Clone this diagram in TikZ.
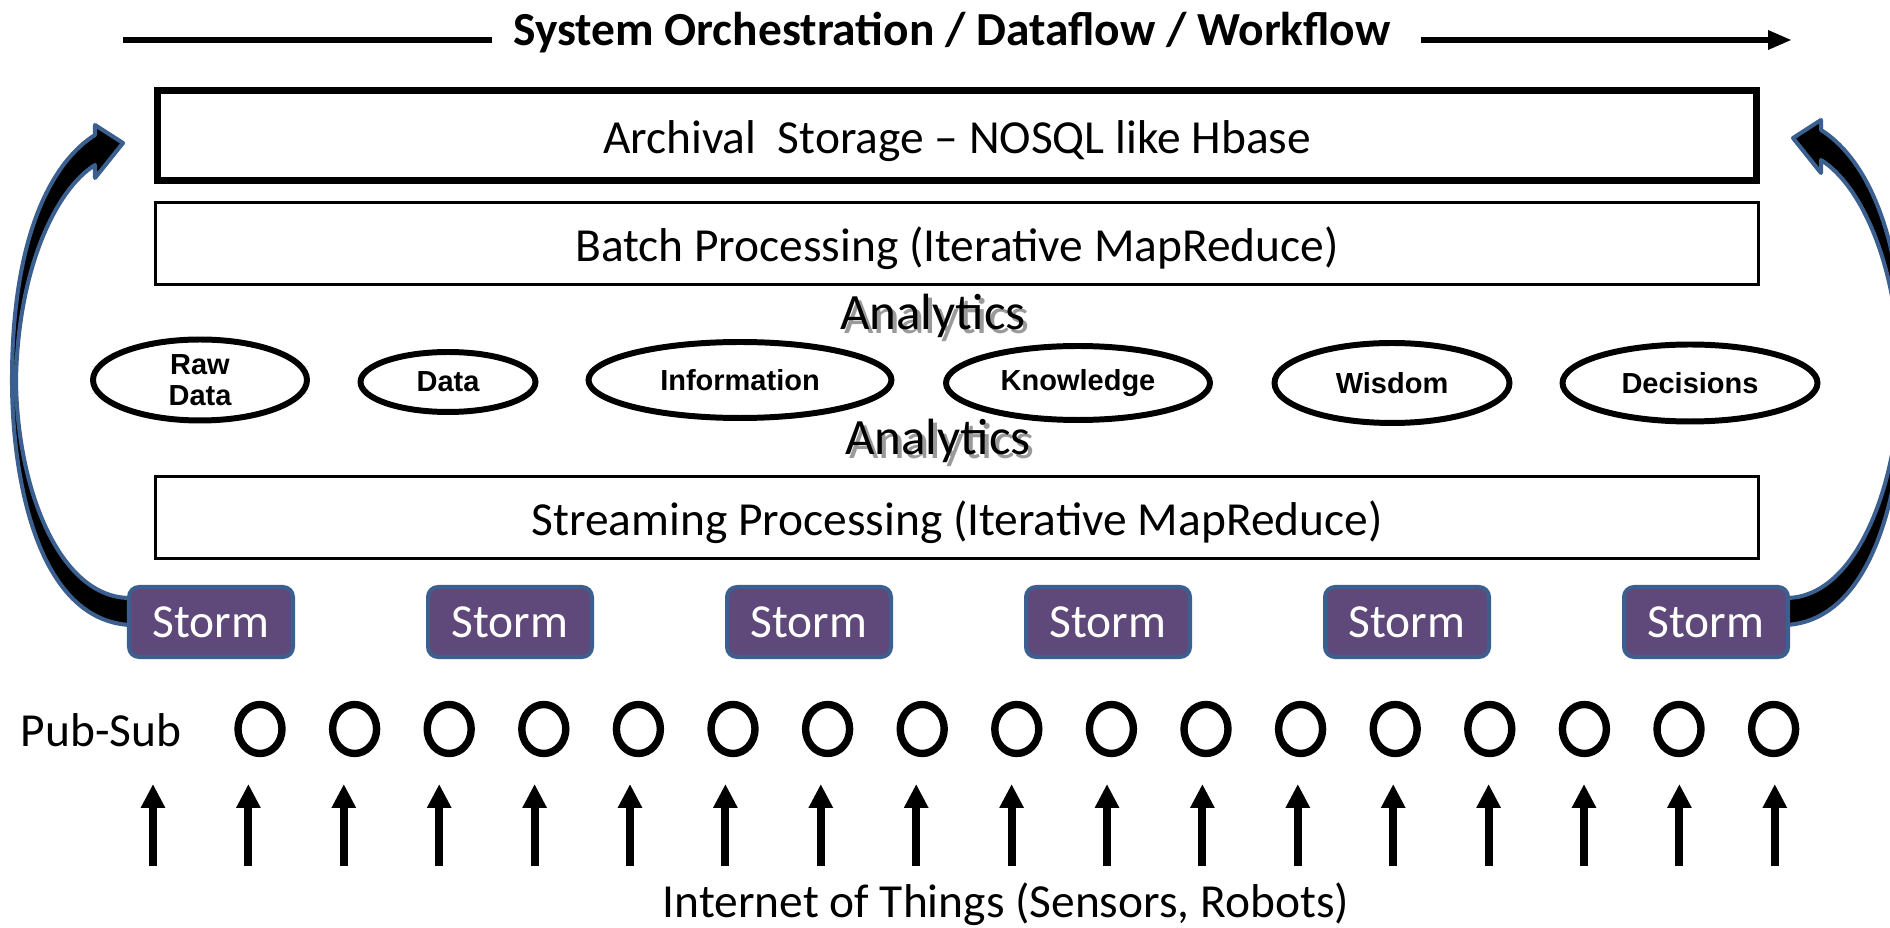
\documentclass[tikz,border=0pt]{standalone}
\usepackage{fontspec}
\setmainfont{Carlito}
\newfontfamily\arialfont{Liberation Sans}
\usetikzlibrary{arrows.meta,positioning,calc,shapes.geometric}
\definecolor{stormfill}{HTML}{5F497A}
\definecolor{stormline}{HTML}{3B6090}
\definecolor{shadowgray}{HTML}{9A9A9A}
\newcommand\bigtext{\fontsize{27}{32}\selectfont}
\newcommand\shadowed[1]{\makebox[0pt][l]{\hspace{2.2pt}\raisebox{-2.2pt}{\color{shadowgray}#1}}#1}
\tikzset{layerbox/.style={draw,line width=1.7pt,minimum width=32.06cm,minimum height=1.64cm,inner sep=0pt,
 text height=21pt,text depth=0pt,font=\bigtext},
 archivebox/.style={layerbox,line width=4pt,minimum width=31.98cm,minimum height=1.8cm},
 stagebox/.style={ellipse,draw,line width=3.4pt,inner sep=0pt,align=center,
 font=\arialfont\bfseries\fontsize{16.5}{18}\selectfont},
 stormbox/.style={draw=stormline,fill=stormfill,line width=2.3pt,rounded corners=5.7pt,
 minimum width=3.28cm,minimum height=1.4cm,inner sep=0pt,text=white,font=\bigtext},
 pubring/.style={ellipse,draw,line width=4.2pt,minimum width=0.88cm,minimum height=0.98cm,inner sep=0pt},
 iotarrow/.style={-{Triangle[length=0.48cm,width=0.46cm]},line width=4.5pt},
 orcharrow/.style={line width=3.4pt},
 curvearrow/.style={draw=stormline,fill=black,line width=2.3pt,line join=round},
 analyticstext/.style={font=\fontsize{29}{34}\selectfont,inner sep=0pt}}

\begin{document}
\begin{tikzpicture}[x=0.02cm,y=-0.02cm]
\useasboundingbox (0,0) rectangle (1890,928);
% title arrow
\node[font=\bfseries\bigtext,inner sep=0pt] (orch) at (952,33) {System Orchestration / Dataflow / Workflow};
\coordinate (orchL) at (123,40);\coordinate (orchR) at (1792,40);
\draw[orcharrow] (orchL)--([xshift=-0.42cm]orch.west |- orchL);
\draw[orcharrow,-{Triangle[length=0.48cm,width=0.36cm]}] ([xshift=0.6cm]orch.east |- orchR)--(orchR);
% layers
\node[archivebox] (archive) at (957,135.5) {Archival~ Storage -- NOSQL like Hbase};
\node[layerbox] (batch) at (957,243.5) {Batch Processing (Iterative MapReduce)};
\node[layerbox] (stream) at (957,517.5) {Streaming Processing (Iterative MapReduce)};
% analytics labels
\node[analyticstext] (anaTop) at (933,318) {\shadowed{Analytics}};
\node[analyticstext] (anaBot) at (938,443) {\shadowed{Analytics}};
% stages
\node[stagebox,minimum width=4.28cm,minimum height=1.62cm] (raw) at (200,380) {Raw\\Data};
\node[stagebox,minimum width=3.5cm,minimum height=1.2cm] (data) at (448,382) {Data};
\node[stagebox,minimum width=6.06cm,minimum height=1.52cm] (info) at (740,380) {Information};
\node[stagebox,minimum width=5.28cm,minimum height=1.48cm] (know) at (1078,383) {Knowledge};
\node[stagebox,minimum width=4.7cm,minimum height=1.6cm] (wisdom) at (1392,383) {Wisdom};
\node[stagebox,minimum width=5.1cm,minimum height=1.54cm] (decide) at (1690,383) {Decisions};
% feedback arrows
\draw[curvearrow] (130,625) .. controls (38,620) and (12,480) .. (12,380)
 .. controls (12,230) and (55,160) .. (95,135) -- (95,125) -- (123,143) -- (95,178) -- (95,165)
 .. controls (55,190) and (18,270) .. (16,380) .. controls (17,490) and (60,598) .. (130,598) -- cycle;
\begin{scope}[shift={(1916,-5)},xscale=-1]
\draw[curvearrow] (130,630) .. controls (38,625) and (12,480) .. (12,380)
 .. controls (12,230) and (55,160) .. (95,135) -- (95,125) -- (123,143) -- (95,178) -- (95,165)
 .. controls (55,190) and (18,270) .. (16,380) .. controls (17,490) and (60,603) .. (130,603) -- cycle;
\end{scope}
% storm
\foreach \i/\x in {1/211,2/510,3/809,4/1108,5/1407,6/1706}
 \node[stormbox] (storm\i) at (\x,622) {Storm};
% pub-sub
\node[font=\bigtext,inner sep=0pt] (pubsub) at (101,730) {Pub-Sub};
\foreach \i in {0,...,16}
 \node[pubring] (ring\i) at (260+94.6*\i,729) {};
% things
\node[font=\bigtext,inner sep=0pt] (iot) at (1006,904) {Internet of Things (Sensors, Robots)};
\foreach \i in {0,...,17}{
 \coordinate (iotB\i) at (153+95.4*\i,866);
 \coordinate (iotT\i) at (153+95.4*\i,784);
 \draw[iotarrow] (iotB\i)--(iotT\i);}
\end{tikzpicture}
\end{document}
